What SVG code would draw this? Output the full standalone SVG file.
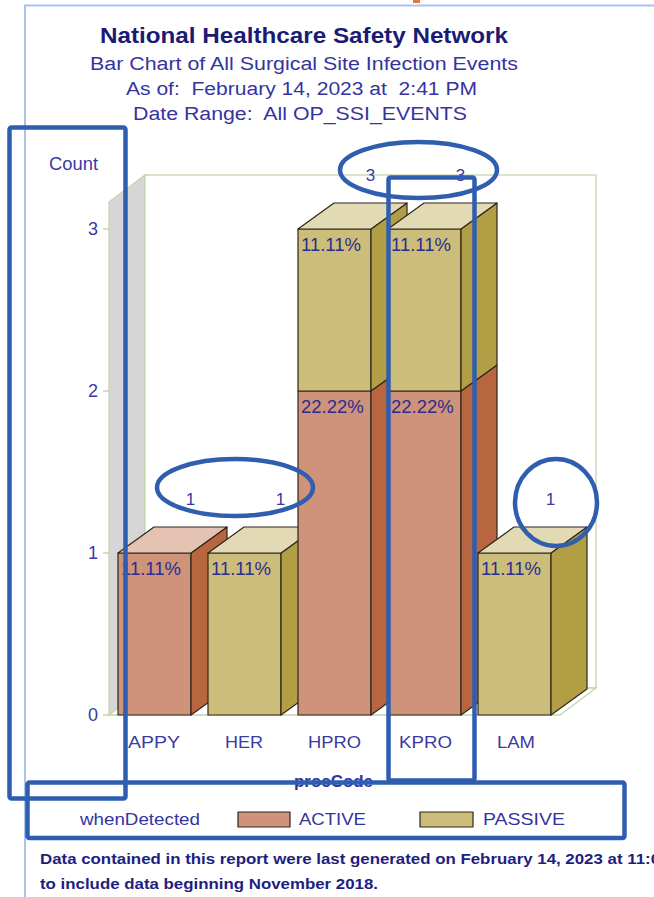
<svg xmlns="http://www.w3.org/2000/svg" width="654" height="897" viewBox="0 0 654 897">
<style>
.ttl{font-family:"Liberation Sans",Arial,sans-serif;font-weight:bold;font-size:22px;fill:#1b1b74}
.sub{font-family:"Liberation Sans",Arial,sans-serif;font-size:18px;fill:#3434a0;white-space:pre}
.ax{font-family:"Liberation Sans",Arial,sans-serif;font-size:18px;fill:#3a3aa2}
.cat{font-family:"Liberation Sans",Arial,sans-serif;font-size:17px;fill:#3a3aa2}
.pct{font-family:"Liberation Sans",Arial,sans-serif;font-size:18.5px;fill:#2c2c8e}
.cnt{font-family:"Liberation Sans",Arial,sans-serif;font-size:17px;fill:#3a3aa2;text-anchor:middle}
.leg{font-family:"Liberation Sans",Arial,sans-serif;font-size:17px;fill:#3434a0}
.foot{font-family:"Liberation Sans",Arial,sans-serif;font-weight:bold;font-size:15px;fill:#1e1e82}
.wall{stroke:#c3d6ad;stroke-width:1.3}
.bar{stroke:#2e261a;stroke-width:1.2;stroke-linejoin:round}
.aF{fill:#cf927a}.aS{fill:#b7663f}.aT{fill:#e4c3b3}
.pF{fill:#cdbd7b}.pS{fill:#b29f45}.pT{fill:#e2dab4}
.ann{fill:none;stroke:#2f5db0;stroke-width:4.5;stroke-linejoin:round}
</style>
<rect x="0" y="0" width="654" height="897" fill="#ffffff"/>
<g id="page-frame">
<rect x="413" y="0" width="7" height="3" fill="#e07a30"/>
<path d="M25 897 V5.5 H654" fill="none" stroke="#a9c3ea" stroke-width="2"/>
</g>
<g id="titles">
<text class="ttl" x="100" y="43" textLength="408" lengthAdjust="spacingAndGlyphs">National Healthcare Safety Network</text>
<text class="sub" x="90" y="70" textLength="428" lengthAdjust="spacingAndGlyphs">Bar Chart of All Surgical Site Infection Events</text>
<text class="sub" x="126" y="95" textLength="351" lengthAdjust="spacingAndGlyphs" xml:space="preserve">As of:  February 14, 2023 at  2:41 PM</text>
<text class="sub" x="133" y="120" textLength="334" lengthAdjust="spacingAndGlyphs" xml:space="preserve">Date Range:  All OP_SSI_EVENTS</text>
</g>
<g id="plot-walls">
<polygon class="wall" points="109,202 145,175 145,688 109,715" fill="#d6d6d6"/>
<rect class="wall" x="145" y="175" width="451" height="513" fill="#ffffff"/>
<polygon class="wall" points="109,715 560,715 596,688 145,688" fill="#ffffff"/>
</g>
<g id="y-axis">
<text class="ax" x="49" y="170" textLength="49" lengthAdjust="spacingAndGlyphs">Count</text>
<g stroke="#b9d0a2" stroke-width="1.3">
<line x1="103" y1="229" x2="109" y2="229"/>
<line x1="103" y1="391" x2="109" y2="391"/>
<line x1="103" y1="553" x2="109" y2="553"/>
<line x1="103" y1="715" x2="109" y2="715"/>
</g>
<g text-anchor="end">
<text class="ax" x="98" y="235">3</text>
<text class="ax" x="98" y="397">2</text>
<text class="ax" x="98" y="559">1</text>
<text class="ax" x="98" y="721">0</text>
</g>
</g>
<g id="bar-APPY" class="bar">
<rect class="aF" x="118" y="553" width="73" height="162"/>
<polygon class="aS" points="191,553 227,527 227,689 191,715"/>
<polygon class="aT" points="118,553 154,527 227,527 191,553"/>
<text class="pct" x="121" y="575" stroke="none">11.11%</text>
<text class="cnt" x="190.5" y="505" stroke="none">1</text>
</g>
<g id="bar-HER" class="bar">
<rect class="pF" x="208" y="553" width="73" height="162"/>
<polygon class="pS" points="281,553 317,527 317,689 281,715"/>
<polygon class="pT" points="208,553 244,527 317,527 281,553"/>
<text class="pct" x="211" y="575" stroke="none">11.11%</text>
<text class="cnt" x="280.5" y="505" stroke="none">1</text>
</g>
<g id="bar-HPRO" class="bar">
<rect class="aF" x="298" y="391" width="73" height="324"/>
<polygon class="aS" points="371,391 407,365 407,689 371,715"/>
<rect class="pF" x="298" y="229" width="73" height="162"/>
<polygon class="pS" points="371,229 407,203 407,365 371,391"/>
<polygon class="pT" points="298,229 334,203 407,203 371,229"/>
<text class="pct" x="301" y="251" stroke="none">11.11%</text>
<text class="pct" x="301" y="413" stroke="none">22.22%</text>
<text class="cnt" x="370.5" y="181" stroke="none">3</text>
</g>
<g id="bar-KPRO" class="bar">
<rect class="aF" x="388" y="391" width="73" height="324"/>
<polygon class="aS" points="461,391 497,365 497,689 461,715"/>
<rect class="pF" x="388" y="229" width="73" height="162"/>
<polygon class="pS" points="461,229 497,203 497,365 461,391"/>
<polygon class="pT" points="388,229 424,203 497,203 461,229"/>
<text class="pct" x="391" y="251" stroke="none">11.11%</text>
<text class="pct" x="391" y="413" stroke="none">22.22%</text>
<text class="cnt" x="460.5" y="181" stroke="none">3</text>
</g>
<g id="bar-LAM" class="bar">
<rect class="pF" x="478" y="553" width="73" height="162"/>
<polygon class="pS" points="551,553 587,527 587,689 551,715"/>
<polygon class="pT" points="478,553 514,527 587,527 551,553"/>
<text class="pct" x="481" y="575" stroke="none">11.11%</text>
<text class="cnt" x="550.5" y="505" stroke="none">1</text>
</g>
<g id="x-axis">
<text class="cat" x="128" y="748" textLength="52" lengthAdjust="spacingAndGlyphs">APPY</text>
<text class="cat" x="225" y="748" textLength="38" lengthAdjust="spacingAndGlyphs">HER</text>
<text class="cat" x="308" y="748" textLength="53" lengthAdjust="spacingAndGlyphs">HPRO</text>
<text class="cat" x="399" y="748" textLength="53" lengthAdjust="spacingAndGlyphs">KPRO</text>
<text class="cat" x="497" y="748" textLength="38" lengthAdjust="spacingAndGlyphs">LAM</text>
<text class="leg" x="294" y="787" font-weight="bold" fill="#33339a" textLength="79" lengthAdjust="spacingAndGlyphs">procCode</text>
</g>
<g id="legend">
<text class="leg" x="80" y="825" textLength="120" lengthAdjust="spacingAndGlyphs">whenDetected</text>
<rect class="bar aF" x="238" y="812" width="52" height="15"/>
<text class="leg" x="299" y="825" textLength="67" lengthAdjust="spacingAndGlyphs">ACTIVE</text>
<rect class="bar pF" x="420" y="812" width="53" height="15"/>
<text class="leg" x="483" y="825" textLength="82" lengthAdjust="spacingAndGlyphs">PASSIVE</text>
</g>
<g id="footer">
<text class="foot" x="40" y="864" textLength="620" lengthAdjust="spacingAndGlyphs">Data contained in this report were last generated on February 14, 2023 at 11:0</text>
<text class="foot" x="40" y="889" textLength="338" lengthAdjust="spacingAndGlyphs">to include data beginning November 2018.</text>
</g>
<g id="annotations">
<rect class="ann" x="9.5" y="127.5" width="116" height="671" rx="2"/>
<rect class="ann" x="388.5" y="177.5" width="86" height="603" rx="2"/>
<rect class="ann" x="27.5" y="782.5" width="597" height="55.5" rx="2"/>
<ellipse class="ann" cx="418.5" cy="170" rx="78.5" ry="28"/>
<ellipse class="ann" cx="235" cy="487.5" rx="78" ry="28.5"/>
<ellipse class="ann" cx="556" cy="502.5" rx="41" ry="43.5"/>
</g>
</svg>
